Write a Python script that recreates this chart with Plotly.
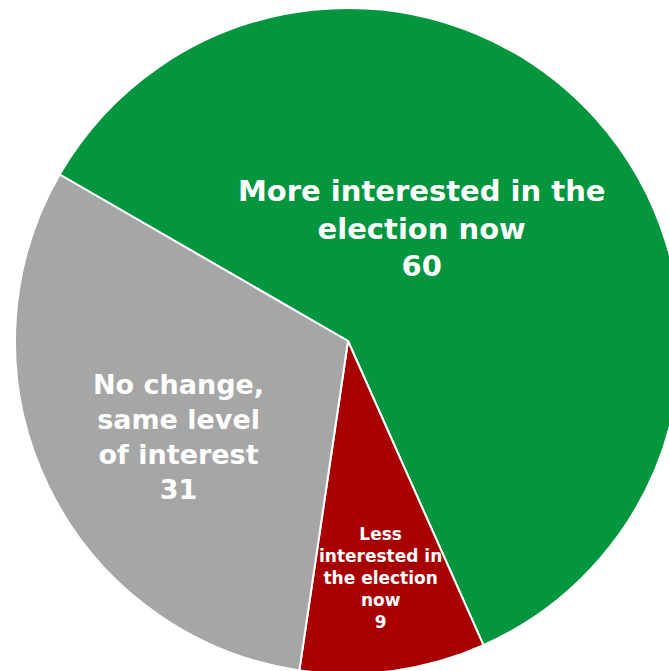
import math
import plotly.graph_objects as go

labels = ["More interested in the<br>election now",
          "Less<br>interested in<br>the election<br>now",
          "No change,<br>same level<br>of interest"]
values = [60, 9, 31]
colors = ["#03963F", "#A80000", "#A6A6A6"]
font_sizes = [29, 17, 27]
# label placement inside each slice: fraction of radius, angle offset (deg) from slice bisector
label_radius = [0.405, 0.718, 0.586]
label_angle_offset = [-14.8, 0.0, -3.7]

W, H = 700, 700
cx, cy, r = 348, 341, 333
start_angle = 300

fig = go.Figure(go.Pie(
    labels=labels,
    values=values,
    sort=False,
    direction="clockwise",
    rotation=start_angle,
    marker=dict(colors=colors, line=dict(color="white", width=2)),
    textinfo="none",
    hoverinfo="skip",
    showlegend=False,
    domain=dict(x=[(cx - r) / W, (cx + r) / W], y=[1 - (cy + r) / H, 1 - (cy - r) / H]),
))

total = sum(values)
cum = 0
for lab, val, fs, rf, off in zip(labels, values, font_sizes, label_radius, label_angle_offset):
    mid = start_angle + 360 * (cum + val / 2) / total + off
    cum += val
    a = math.radians(mid)
    px = cx + rf * r * math.sin(a)
    py = cy - rf * r * math.cos(a)
    fig.add_annotation(
        x=px / W, y=1 - py / H, xref="paper", yref="paper",
        xanchor="center", yanchor="middle", showarrow=False,
        text=f"{lab}<br>{val}", align="center",
        font=dict(family="DejaVu Sans", size=fs, color="white", weight="bold"),
    )

fig.update_layout(
    width=W, height=H,
    margin=dict(l=0, r=0, t=0, b=0),
    paper_bgcolor="white",
    plot_bgcolor="white",
)

fig.write_html("out.html", config={"displayModeBar": False}, post_script=(
    "document.body.style.margin='0';"
    "document.body.style.overflow='hidden';"
    "document.documentElement.style.overflow='hidden';"
))
